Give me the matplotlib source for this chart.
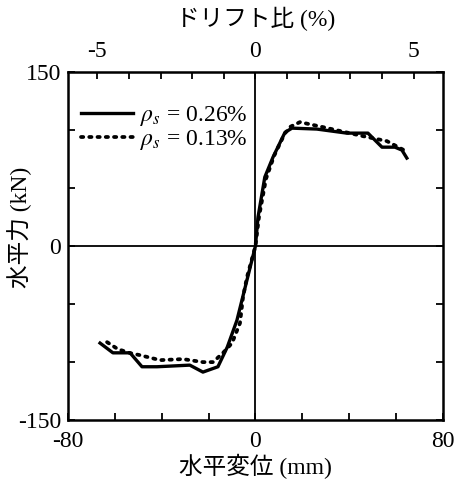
import matplotlib
matplotlib.use('Agg')
import matplotlib.pyplot as plt
from matplotlib.ticker import FixedLocator, FuncFormatter

plt.rcParams['font.family'] = ['Liberation Serif', 'Noto Sans CJK JP']
plt.rcParams['mathtext.fontset'] = 'stix'

# ---- data ----
# rho_s = 0.26 %
disp_026 = [-66.3, -60.8, -53.5, -48.4, -42.0, -28.0, -22.4, -16.0, -12.0, -7.9, 0.0,
            1.1, 4.0, 7.5, 12.6, 15.6, 26.2, 39.0, 48.0, 54.0, 59.5, 62.5, 64.6]
force_026 = [-83.6, -92.0, -92.0, -104.0, -104.0, -102.6, -108.6, -104.0, -87.0, -64.0, 0.0,
             25.0, 59.5, 76.7, 98.0, 101.7, 100.9, 97.4, 97.4, 85.3, 85.3, 82.8, 75.9]
# rho_s = 0.13 %
disp_013 = [-63.3, -58.7, -53.5, -49.3, -40.7, -30.9, -22.4, -18.1, -13.9, -10.0, -6.6,
            -5.3, -3.6, 0.0, 1.5, 4.5, 8.0, 12.5, 15.0, 19.0, 28.8, 38.2, 45.9, 56.1, 65.0]
force_013 = [-82.8, -88.8, -92.2, -94.0, -98.3, -97.4, -100.0, -100.0, -92.2, -83.6, -66.4,
             -44.0, -26.7, 0.0, 25.0, 58.0, 78.0, 97.0, 103.0, 106.9, 102.6, 98.3, 94.8, 90.5, 81.0]

MM_PER_PCT = 13.5
x_ticks = [-80, -60, -40, -20, 0, 20, 40, 60, 80]
x_labels = [-80, 0, 80]
y_ticks = [-150, -100, -50, 0, 50, 100, 150]
y_labels = [-150, 0, 150]
drift_ticks = [-5, -4, -3, -2, -1, 0, 1, 2, 3, 4, 5]
drift_labels = [-5, 0, 5]


def only(vals):
    return FuncFormatter(lambda v, p: f'{v:.0f}' if round(v) in vals else '')


fig = plt.figure(figsize=(4.59, 4.84), dpi=100)
ax = fig.add_axes([0.148, 0.132, 0.817, 0.719])

ax.plot(disp_026, force_026, color='black', lw=2.4, solid_joinstyle='round',
        label=r'$\rho_s$ = 0.26%')
ax.plot(disp_013, force_013, color='black', lw=2.7, ls=(0, (0.6, 1.6)),
        dash_capstyle='round', label=r'$\rho_s$ = 0.13%')

ax.axhline(0, color='black', lw=1.3)
ax.axvline(0, color='black', lw=1.3)

ax.set_xlim(-80, 80)
ax.set_ylim(-150, 150)
ax.xaxis.set_major_locator(FixedLocator(x_ticks))
ax.xaxis.set_major_formatter(only(x_labels))
ax.yaxis.set_major_locator(FixedLocator(y_ticks))
ax.yaxis.set_major_formatter(only(y_labels))
ax.tick_params(direction='in', length=5, width=1.3, labelsize=17,
               right=True, pad=5)
ax.tick_params(axis='x', pad=8)

for s in ax.spines.values():
    s.set_linewidth(1.8)

top = ax.secondary_xaxis('top', functions=(lambda x: x / MM_PER_PCT,
                                             lambda p: p * MM_PER_PCT))
top.xaxis.set_major_locator(FixedLocator(drift_ticks))
top.xaxis.set_major_formatter(only(drift_labels))
top.tick_params(direction='in', length=5, width=1.3, labelsize=17, pad=7)
top.set_xlabel('ドリフト比 (%)', fontsize=17, labelpad=11)

ax.set_xlabel('水平変位 (mm)', fontsize=17, labelpad=1)
ax.set_ylabel('水平力 (kN)', fontsize=17)
ax.yaxis.set_label_coords(-0.096, 0.555)

ax.legend(loc='upper left', frameon=False, fontsize=17, handlelength=2.2,
          handletextpad=0.3, borderaxespad=0.0, labelspacing=0.0,
          bbox_to_anchor=(0.01, 0.935))

fig.savefig('out.png', dpi=100)
